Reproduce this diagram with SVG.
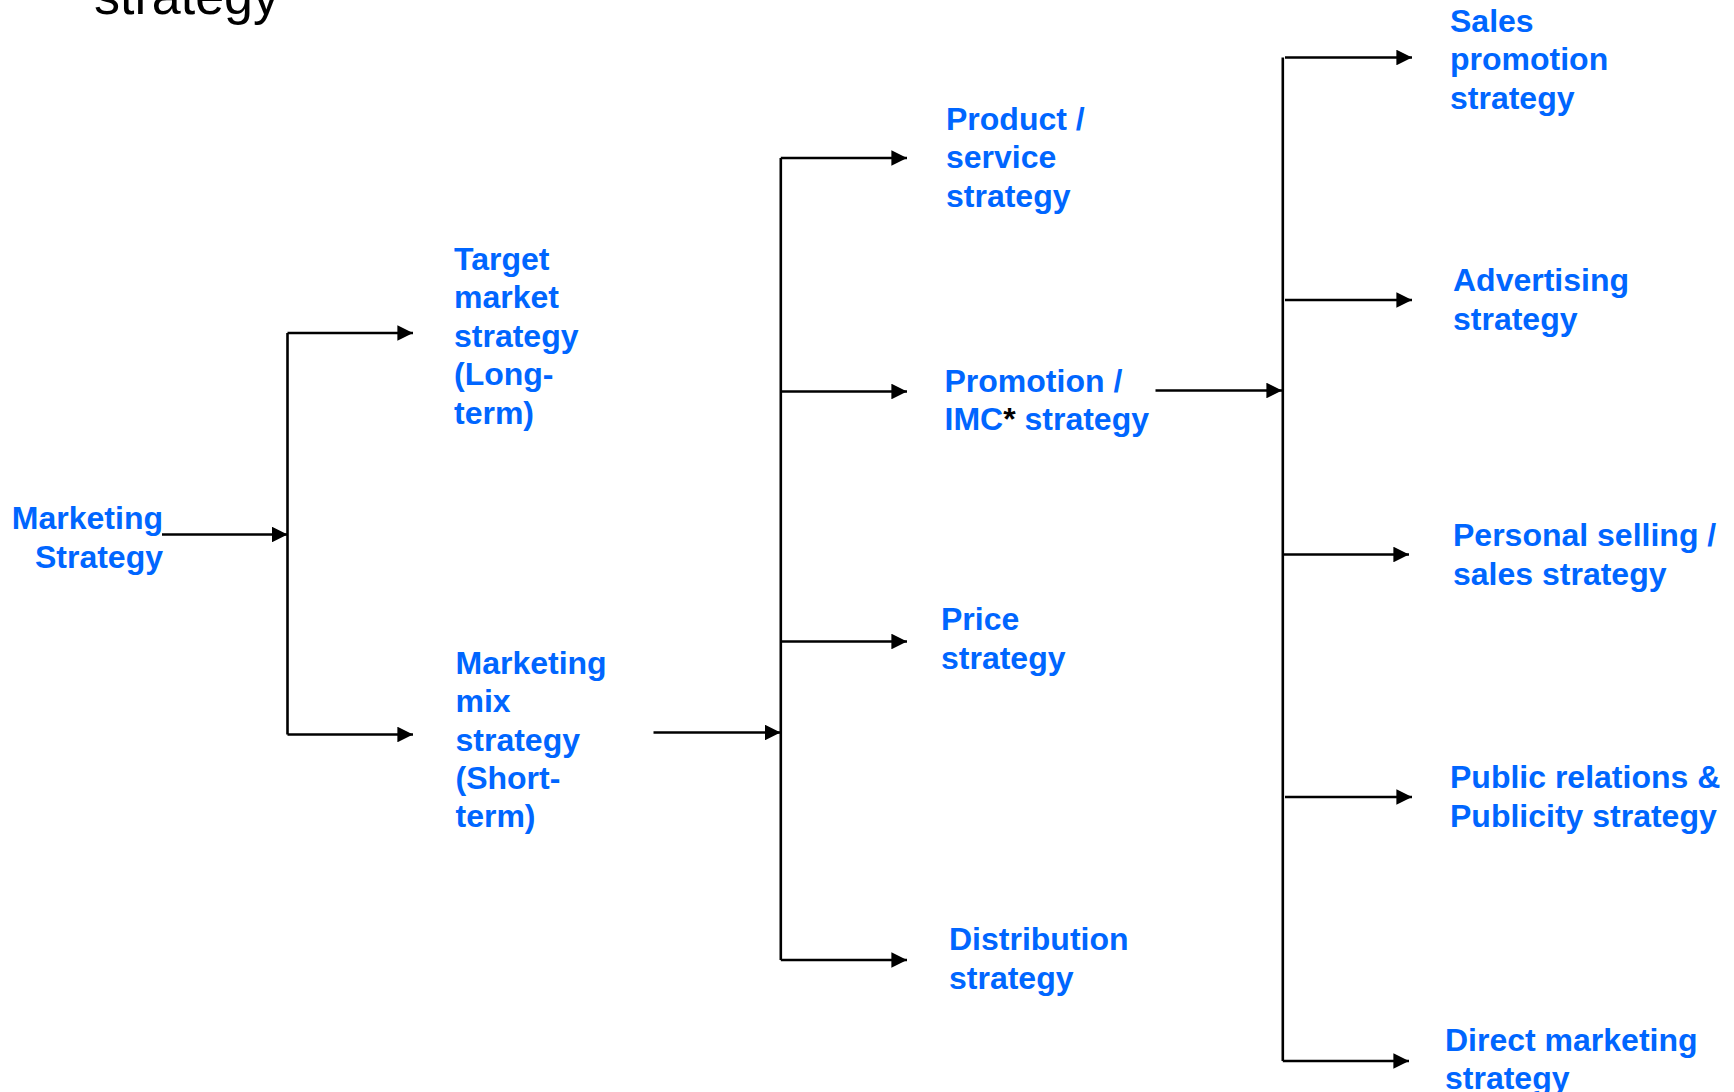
<svg xmlns="http://www.w3.org/2000/svg" width="1734" height="1092" viewBox="0 0 1734 1092">
<defs>
<style>
.t{font-family:"Liberation Sans",Arial,sans-serif;font-weight:bold;font-size:32px;fill:#0066FF}
.k{fill:#000}
.title{font-family:"Liberation Sans",Arial,sans-serif;font-size:52px;fill:#000}
.c line{stroke:#000;stroke-width:2.6}
.c .a{marker-end:url(#ah)}
</style>
<marker id="ah" markerWidth="6" markerHeight="6" refX="6" refY="3" orient="auto" markerUnits="strokeWidth" viewBox="0 0 6 6">
<path d="M0,0 L6,3 L0,6 z" fill="#000"/>
</marker>
</defs>
<rect width="1734" height="1092" fill="#fff"/>
<text class="title" x="94" y="13.5">strategy</text>

<g class="c" id="connectors">
<line class="a" x1="162" y1="534.5" x2="287.5" y2="534.5"/>
<line x1="287.5" y1="333" x2="287.5" y2="734.5"/>
<line class="a" x1="287.5" y1="333" x2="413" y2="333"/>
<line class="a" x1="287.5" y1="734.5" x2="413" y2="734.5"/>
<line class="a" x1="653.5" y1="732.5" x2="780.5" y2="732.5"/>
<line x1="780.8" y1="158" x2="780.8" y2="960"/>
<line class="a" x1="780.8" y1="158" x2="907" y2="158"/>
<line class="a" x1="780.8" y1="391.5" x2="907" y2="391.5"/>
<line class="a" x1="780.8" y1="641.5" x2="907" y2="641.5"/>
<line class="a" x1="780.8" y1="960" x2="907" y2="960"/>
<line class="a" x1="1155.5" y1="390.5" x2="1282" y2="390.5"/>
<line x1="1282.8" y1="57.5" x2="1282.8" y2="1061"/>
<line class="a" x1="1285" y1="57.5" x2="1412" y2="57.5"/>
<line class="a" x1="1285" y1="300" x2="1412" y2="300"/>
<line class="a" x1="1282.8" y1="554.5" x2="1409" y2="554.5"/>
<line class="a" x1="1285" y1="797" x2="1412" y2="797"/>
<line class="a" x1="1282.8" y1="1061" x2="1409" y2="1061"/>
</g>

<g id="marketing-strategy"><text class="t" text-anchor="end"><tspan x="163" y="529">Marketing</tspan><tspan x="163" y="567.5">Strategy</tspan></text></g>
<g id="target-market"><text class="t"><tspan x="454" y="269.5">Target</tspan><tspan x="454" y="308">market</tspan><tspan x="454" y="346.5">strategy</tspan><tspan x="454" y="385">(Long-</tspan><tspan x="454" y="423.5">term)</tspan></text></g>
<g id="marketing-mix"><text class="t"><tspan x="455.5" y="674">Marketing</tspan><tspan x="455.5" y="712.3">mix</tspan><tspan x="455.5" y="750.5">strategy</tspan><tspan x="455.5" y="788.5">(Short-</tspan><tspan x="455.5" y="826.5">term)</tspan></text></g>
<g id="product"><text class="t"><tspan x="946" y="130">Product /</tspan><tspan x="946" y="168.3">service</tspan><tspan x="946" y="206.5">strategy</tspan></text></g>
<g id="promotion"><text class="t"><tspan x="944.5" y="391.5">Promotion /</tspan><tspan x="944.5" y="430">IMC<tspan class="k">*</tspan> strategy</tspan></text></g>
<g id="price"><text class="t"><tspan x="941" y="629.5">Price</tspan><tspan x="941" y="668.5">strategy</tspan></text></g>
<g id="distribution"><text class="t"><tspan x="949" y="950">Distribution</tspan><tspan x="949" y="989">strategy</tspan></text></g>
<g id="sales-promotion"><text class="t"><tspan x="1450" y="31.5">Sales</tspan><tspan x="1450" y="70.2">promotion</tspan><tspan x="1450" y="108.8">strategy</tspan></text></g>
<g id="advertising"><text class="t"><tspan x="1453" y="290.5">Advertising</tspan><tspan x="1453" y="329.5">strategy</tspan></text></g>
<g id="personal-selling"><text class="t"><tspan x="1453" y="545.5">Personal selling /</tspan><tspan x="1453" y="584.5">sales strategy</tspan></text></g>
<g id="public-relations"><text class="t"><tspan x="1450" y="788">Public relations &amp;</tspan><tspan x="1450" y="826.5">Publicity strategy</tspan></text></g>
<g id="direct-marketing"><text class="t"><tspan x="1445" y="1050.5">Direct marketing</tspan><tspan x="1445" y="1089">strategy</tspan></text></g>
</svg>
